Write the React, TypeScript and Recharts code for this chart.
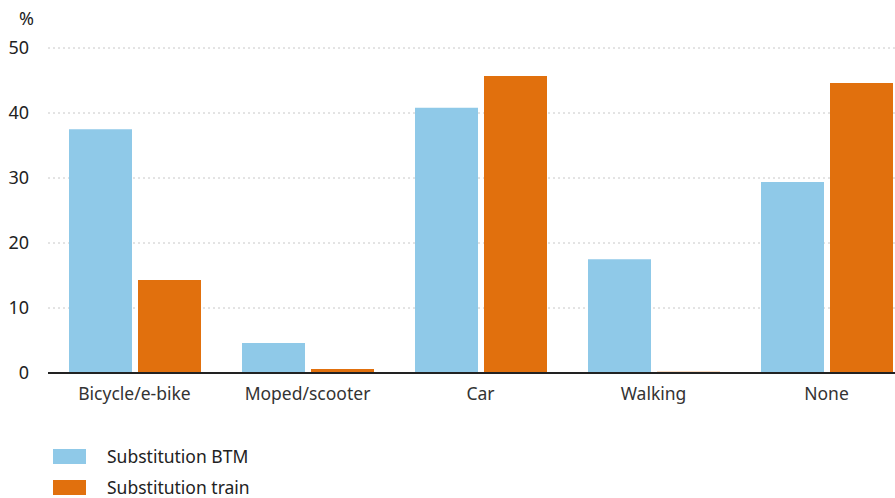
import { BarChart, Bar, XAxis, YAxis, CartesianGrid } from "recharts";

const categories = ["Bicycle/e-bike", "Moped/scooter", "Car", "Walking", "None"];
const btmValues = [37.5, 4.6, 40.8, 17.5, 29.4];
const trainValues = [14.3, 0.6, 45.7, 0.2, 44.6];
const yTicks = [0, 10, 20, 30, 40, 50];

const BTM_COLOR = "#8fc9e8";
const TRAIN_COLOR = "#e1700d";
const FONT = "'Noto Sans', 'Open Sans', sans-serif";

const legendItems = [
  { label: "Substitution BTM", color: BTM_COLOR },
  { label: "Substitution train", color: TRAIN_COLOR },
];

function LegendBox() {
  return (
    <div
      style={{
        position: "absolute",
        left: 53,
        top: 441,
        fontFamily: FONT,
        fontSize: 17.5,
        lineHeight: "17px",
        color: "#222",
      }}
    >
      {legendItems.map((item) => (
        <div
          key={item.label}
          style={{ display: "flex", alignItems: "center", height: 31 }}
        >
          <span
            style={{
              display: "inline-block",
              width: 33,
              height: 15,
              backgroundColor: item.color,
              marginRight: 21,
            }}
          />
          <span>{item.label}</span>
        </div>
      ))}
    </div>
  );
}

export default function App() {
  const data = categories.map((name, i) => ({
    name,
    btm: btmValues[i],
    train: trainValues[i],
  }));

  return (
    <div
      style={{
        position: "absolute",
        left: 0,
        top: 0,
        width: 895,
        height: 498,
        overflow: "hidden",
        background: "#fff",
      }}
    >
      <span
        style={{
          position: "absolute",
          left: 19,
          top: 6,
          fontFamily: FONT,
          fontSize: 18,
          color: "#222",
        }}
      >
        %
      </span>
      <BarChart
        width={920}
        height={498}
        data={data}
        margin={{ top: 48, right: 7, bottom: 95, left: 0 }}
        barGap={6}
        barSize={63}
      >
        <CartesianGrid
          vertical={false}
          stroke="#c8c8c8"
          strokeDasharray="2 3"
        />
        <XAxis
          dataKey="name"
          height={30}
          tickLine={false}
          axisLine={{ stroke: "#222", strokeWidth: 2 }}
          tick={{ fontSize: 17.5, fill: "#333", fontFamily: FONT }}
          tickMargin={9}
          interval={0}
        />
        <YAxis
          domain={[0, 50]}
          ticks={yTicks}
          width={48}
          axisLine={false}
          tickLine={false}
          tick={{ fontSize: 18, fill: "#222", fontFamily: FONT }}
          tickMargin={13}
        />
        <Bar dataKey="btm" fill={BTM_COLOR} isAnimationActive={false} />
        <Bar dataKey="train" fill={TRAIN_COLOR} isAnimationActive={false} />
      </BarChart>
      <LegendBox />
    </div>
  );
}
